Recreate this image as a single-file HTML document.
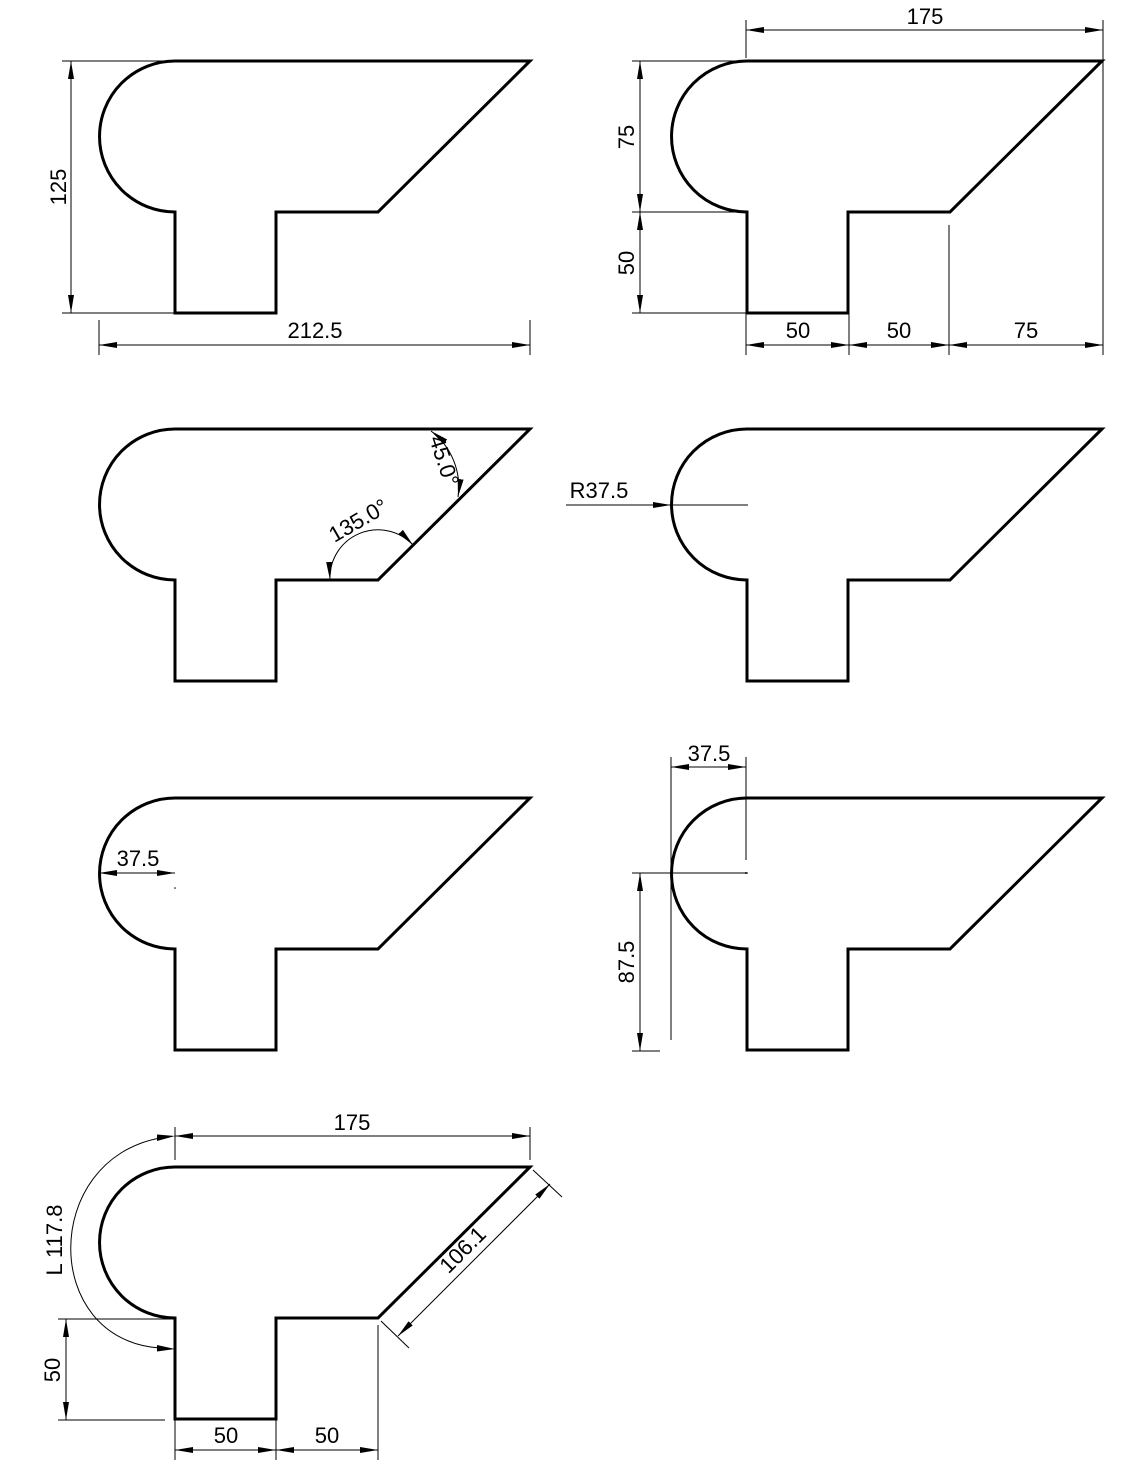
<!DOCTYPE html>
<html><head><meta charset="utf-8"><style>
html,body{margin:0;padding:0;background:#fff;}
svg text{font-family:"Liberation Sans Narrow","Liberation Sans",sans-serif;font-size:22px;fill:#000;}
</style></head><body>
<svg width="1141" height="1466" viewBox="0 0 1141 1466" xmlns="http://www.w3.org/2000/svg">
<defs>
<marker id="a" viewBox="0 0 18 6" refX="18" refY="3" markerWidth="18" markerHeight="6" markerUnits="userSpaceOnUse" orient="auto-start-reverse"><path d="M0,0 L18,3 L0,6 Z" fill="#000"/></marker>
<path id="s" d="M175,61 L530,61 L378,212 L276,212 L276,313 L175,313 L175,212 A75.5,75.5 0 0 1 175,61 Z" fill="none" stroke="#000" stroke-width="3" stroke-linejoin="miter"/>
</defs>
<use href="#s"/>
<use href="#s" transform="translate(572,0)"/>
<use href="#s" transform="translate(0,368)"/>
<use href="#s" transform="translate(572,368)"/>
<use href="#s" transform="translate(0,737)"/>
<use href="#s" transform="translate(572,737)"/>
<use href="#s" transform="translate(0,1106)"/>
<g stroke="#000" stroke-width="1" fill="none">
<line x1="62" y1="61" x2="170" y2="61"/><line x1="62" y1="313" x2="175" y2="313"/>
<line x1="71" y1="61" x2="71" y2="313" marker-start="url(#a)" marker-end="url(#a)"/>
<line x1="99" y1="320" x2="99" y2="355"/><line x1="530" y1="320" x2="530" y2="355"/>
<line x1="99" y1="345" x2="530" y2="345" marker-start="url(#a)" marker-end="url(#a)"/>
<line x1="746" y1="20" x2="746" y2="58"/><line x1="1103" y1="20" x2="1103" y2="355"/>
<line x1="746" y1="30" x2="1103" y2="30" marker-start="url(#a)" marker-end="url(#a)"/>
<line x1="632" y1="61" x2="746" y2="61"/><line x1="632" y1="212" x2="746" y2="212"/><line x1="632" y1="313" x2="746" y2="313"/>
<line x1="640" y1="61" x2="640" y2="212" marker-start="url(#a)" marker-end="url(#a)"/>
<line x1="640" y1="212" x2="640" y2="313" marker-start="url(#a)" marker-end="url(#a)"/>
<line x1="746" y1="313" x2="746" y2="355"/><line x1="849" y1="313" x2="849" y2="355"/><line x1="949" y1="225" x2="949" y2="355"/>
<line x1="746" y1="345" x2="849" y2="345" marker-start="url(#a)" marker-end="url(#a)"/>
<line x1="849" y1="345" x2="949" y2="345" marker-start="url(#a)" marker-end="url(#a)"/>
<line x1="949" y1="345" x2="1103" y2="345" marker-start="url(#a)" marker-end="url(#a)"/>
<path d="M431,431 A70,70 0 0 1 458,497" marker-start="url(#a)" marker-end="url(#a)"/>
<path d="M330,580 A48,48 0 0 1 413,545" marker-start="url(#a)" marker-end="url(#a)"/>
<line x1="566" y1="505" x2="671" y2="505" marker-end="url(#a)"/>
<line x1="671" y1="505" x2="748" y2="505"/>
<line x1="99" y1="873" x2="175" y2="873" marker-start="url(#a)" marker-end="url(#a)"/>
<line x1="671" y1="757" x2="671" y2="1040"/><line x1="746" y1="757" x2="746" y2="860"/>
<line x1="671" y1="767" x2="746" y2="767" marker-start="url(#a)" marker-end="url(#a)"/>
<line x1="632" y1="873" x2="748" y2="873"/><line x1="632" y1="1051" x2="660" y2="1051"/>
<line x1="640" y1="873" x2="640" y2="1051" marker-start="url(#a)" marker-end="url(#a)"/>
<line x1="175" y1="1127" x2="175" y2="1160"/><line x1="530" y1="1127" x2="530" y2="1160"/>
<line x1="175" y1="1136" x2="530" y2="1136" marker-start="url(#a)" marker-end="url(#a)"/>
<path d="M160,1138 C41,1160 41,1340 160,1348"/>
<line x1="378" y1="1325" x2="378" y2="1460"/>
<line x1="533" y1="1170" x2="562" y2="1197"/><line x1="381" y1="1321" x2="409" y2="1348"/>
<line x1="550" y1="1184" x2="398" y2="1336" marker-start="url(#a)" marker-end="url(#a)"/>
<line x1="58" y1="1319" x2="175" y2="1319"/><line x1="58" y1="1420" x2="165" y2="1420"/>
<line x1="66" y1="1319" x2="66" y2="1420" marker-start="url(#a)" marker-end="url(#a)"/>
<line x1="175" y1="1420" x2="175" y2="1460"/><line x1="276" y1="1420" x2="276" y2="1460"/>
<line x1="175" y1="1450" x2="276" y2="1450" marker-start="url(#a)" marker-end="url(#a)"/>
<line x1="276" y1="1450" x2="378" y2="1450" marker-start="url(#a)" marker-end="url(#a)"/>
</g>
<polygon points="175,1136 157,1134.5 157,1141" fill="#000"/>
<polygon points="175,1349 157,1345 157,1351.5" fill="#000"/>
<circle cx="175" cy="888" r="0.8" fill="#000"/>
<circle cx="746" cy="873" r="1" fill="#000"/>
<text x="315" y="338" text-anchor="middle">212.5</text>
<text transform="translate(66,187) rotate(-90)" text-anchor="middle">125</text>
<text x="925" y="24" text-anchor="middle">175</text>
<text transform="translate(634,137) rotate(-90)" text-anchor="middle">75</text>
<text transform="translate(634,263) rotate(-90)" text-anchor="middle">50</text>
<text x="798" y="338" text-anchor="middle">50</text>
<text x="899" y="338" text-anchor="middle">50</text>
<text x="1026" y="338" text-anchor="middle">75</text>
<text transform="translate(437,463) rotate(72)" text-anchor="middle">45.0°</text>
<text transform="translate(362,527) rotate(-30)" text-anchor="middle">135.0°</text>
<text x="599" y="498" text-anchor="middle">R37.5</text>
<text x="138" y="866" text-anchor="middle">37.5</text>
<text x="709" y="761" text-anchor="middle">37.5</text>
<text transform="translate(634,962) rotate(-90)" text-anchor="middle">87.5</text>
<text x="352" y="1130" text-anchor="middle">175</text>
<text transform="translate(62,1240) rotate(-90)" text-anchor="middle">L 117.8</text>
<text transform="translate(468,1255) rotate(-45)" text-anchor="middle">106.1</text>
<text transform="translate(60,1370) rotate(-90)" text-anchor="middle">50</text>
<text x="226" y="1443" text-anchor="middle">50</text>
<text x="327" y="1443" text-anchor="middle">50</text>
</svg>
</body></html>
